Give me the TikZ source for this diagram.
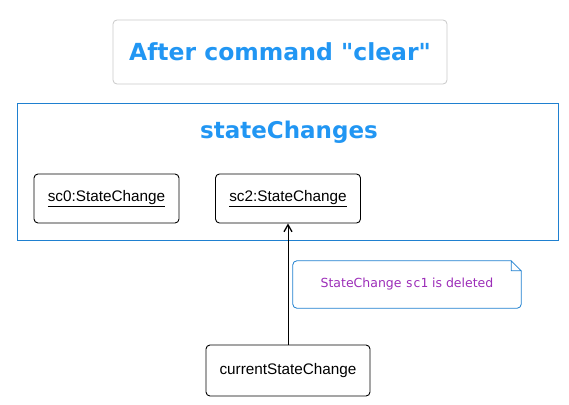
\documentclass[tikz,border=0pt]{standalone}
\usepackage{fontspec}
\setmainfont{Liberation Sans}
\newfontfamily\headfont{DejaVu Sans}
\newfontfamily\notefont{DejaVu Sans}
\newfontfamily\notemono{DejaVu Sans Mono}
\usetikzlibrary{positioning,arrows.meta}
\definecolor{headblue}{HTML}{2196F3}
\definecolor{frameblue}{HTML}{1F80D0}
\definecolor{greyline}{HTML}{C8C8C8}
\definecolor{notepurple}{HTML}{9C2DB8}

\tikzset{
  objbox/.style={draw=black,line width=0.9pt,rounded corners=4pt,
    minimum width=145pt,minimum height=49pt,font=\fontsize{15.3}{18}\selectfont},
  heading/.style={font=\headfont\bfseries\fontsize{23}{27}\selectfont,color=headblue},
  arrowline/.style={-{Straight Barb[length=7pt,width=8pt,line width=1.3pt]},line width=0.9pt}
}

\begin{document}
\begin{tikzpicture}[x=1pt,y=-1pt]
        \useasboundingbox (0,0) rectangle (569,404);
        % title
        \node[heading,font=\headfont\bfseries\fontsize{23.5}{27}\selectfont,
          draw=greyline,line width=0.8pt,rounded corners=4pt,
          minimum width=334pt,minimum height=64pt] (title) at (280,52) {After command "clear"};
        % list of state changes
        \node[draw=frameblue,line width=0.9pt,minimum width=541pt,minimum height=137pt] (frame) at (287.5,171.5) {};
        \node[heading] (framelabel) at (289,132) {stateChanges};
        \node[objbox] (sc0) at (106.5,198.5) {\underline{sc0:StateChange}};
        \node[objbox] (sc2) at (288,198.5) {\underline{sc2:StateChange}};
        % pointer
        \node[objbox,minimum width=164pt,minimum height=51pt] (current) at (288,370.5) {currentStateChange};
        \draw[arrowline] (current) -- (sc2);
        % note
        \node[minimum width=228pt,minimum height=47pt,color=notepurple,
          font=\notefont\fontsize{12.5}{15}\selectfont] (note) at (407,284.5)
          {StateChange \notemono sc1\notefont{} is deleted};
        \draw[frameblue,line width=0.8pt,rounded corners=4pt]
          ([xshift=-10pt]note.north east) -- (note.north west) -- (note.south west)
          -- (note.south east) -- ([yshift=-10pt]note.north east);
        \draw[frameblue,line width=0.8pt]
          ([xshift=-10pt]note.north east) -- ([yshift=-10pt]note.north east)
          -- ([xshift=-10pt,yshift=-10pt]note.north east) -- cycle;
      \end{tikzpicture}
\end{document}
